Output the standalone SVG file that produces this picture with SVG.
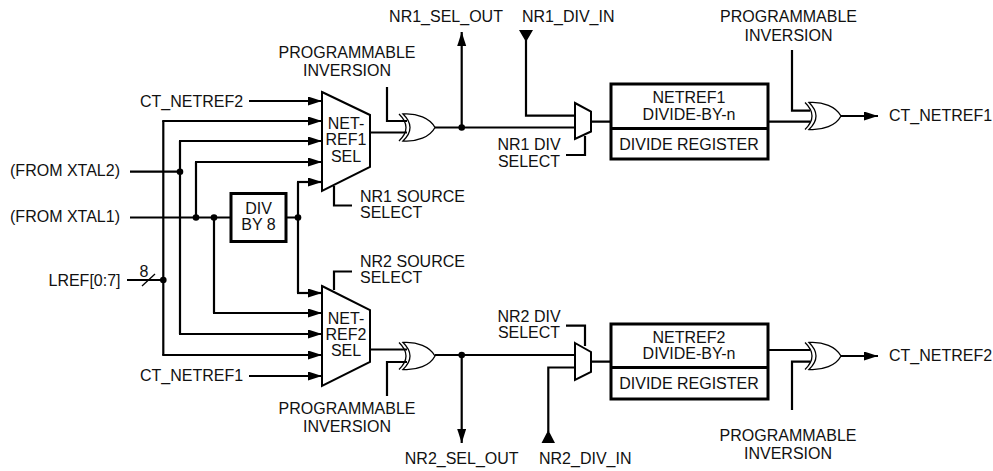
<svg xmlns="http://www.w3.org/2000/svg" width="993" height="471" viewBox="0 0 993 471">
<style>
text{font-family:"Liberation Sans",Arial,sans-serif;font-size:16px;fill:#111;text-anchor:middle}
.s{text-anchor:start}
.w{fill:none;stroke:#000;stroke-width:2.2}
.t{fill:none;stroke:#000;stroke-width:1.3}
.b{fill:#fff;stroke:#000;stroke-width:3}
.m{fill:#fff;stroke:#000;stroke-width:2}
.x{fill:#fff;stroke:#000;stroke-width:1.3}
</style>
<defs>
<marker id="a" markerUnits="userSpaceOnUse" markerWidth="15" markerHeight="10" refX="14" refY="4.500" orient="auto"><path d="M0 0L14 4.500L0 9Z" fill="#000"/></marker>
<g id="xor"><path class="x" d="M4 0C18 -1 31 4 36 13.500C31 23 18 28 4 27Q18 13.500 4 0Z"/><path class="t" d="M0 0Q14 13.500 0 27"/></g>
</defs>
<g id="connectors">
<path class="w" d="M130 171.700H180M130 217.500H231M180 141V334M196 217.500V162M214 217.500V313M163.300 121V355M286 217.500H298M298 182V293M127 280H163"/>
<path class="t" d="M142 286L155 274"/>
<path class="w" marker-end="url(#a)" d="M249 101H322"/>
<path class="w" marker-end="url(#a)" d="M162.200 121H322"/>
<path class="w" marker-end="url(#a)" d="M179 141H322"/>
<path class="w" marker-end="url(#a)" d="M195 162H322"/>
<path class="w" marker-end="url(#a)" d="M297 182H322"/>
<path class="w" marker-end="url(#a)" d="M297 293H322"/>
<path class="w" marker-end="url(#a)" d="M213 313H322"/>
<path class="w" marker-end="url(#a)" d="M179 334H322"/>
<path class="w" marker-end="url(#a)" d="M162.200 355H322"/>
<path class="w" marker-end="url(#a)" d="M249 376H322"/>
<path class="w" d="M334 186V205.500H352M334 290V271.500H352"/>
<path class="w" d="M370 132.500H407M387 87V121H407M370 349.500H407M387 396V362H407"/>
<path class="w" d="M435 127.500H575M435 355H575"/>
<path class="w" marker-end="url(#a)" d="M461.700 127.500V32"/>
<path class="w" marker-end="url(#a)" d="M461.700 355V443"/>
<path class="w" d="M526 40V115.700H575M548.300 432V367.500H575M591 121.700H611M591 361.700H611"/>
<path class="w" d="M585 136V155H566M585 346V325.700H566"/>
<path class="w" d="M768 121.700H810M792 50V110.700H810M768 350H810M792 410V361.700H810"/>
<path class="w" marker-end="url(#a)" d="M841 116H878"/>
<path class="w" marker-end="url(#a)" d="M841 356H878"/>
<path d="M519 30H533L526 42ZM541.500 443H555L548.300 430Z" fill="#000"/>
<g fill="#000"><circle cx="180" cy="171.700" r="3.300"/><circle cx="196" cy="217.500" r="3.300"/><circle cx="214" cy="217.500" r="3.300"/><circle cx="298" cy="217.500" r="3.300"/><circle cx="163.300" cy="280" r="3.300"/><circle cx="461.700" cy="127.500" r="3.300"/><circle cx="461.700" cy="355" r="3.300"/></g>
</g>
<g id="mux1"><path class="m" d="M322 92L370 115V167L322 191Z"/><text x="346" y="129">NET-</text><text x="346" y="145">REF1</text><text x="346" y="161.500">SEL</text></g>
<g id="mux2"><path class="m" d="M322 286L370 310V362L322 386Z"/><text x="346" y="324">NET-</text><text x="346" y="339.500">REF2</text><text x="346" y="356">SEL</text></g>
<g id="div8"><rect class="b" x="231" y="193.500" width="55" height="48"/><text x="258.500" y="214">DIV</text><text x="258.500" y="229.500">BY 8</text></g>
<g id="xor1"><use href="#xor" x="399" y="114"/></g>
<g id="xor2"><use href="#xor" x="399" y="342.500"/></g>
<g id="xor3"><use href="#xor" x="805" y="102.500"/></g>
<g id="xor4"><use href="#xor" x="805" y="342.500"/></g>
<g id="muxs1"><path class="m" d="M575 103L591 111.500V131.500L575 139Z"/></g>
<g id="muxs2"><path class="m" d="M575 343L591 352V372L575 380Z"/></g>
<g id="box1"><rect class="b" x="611" y="84" width="157" height="75"/><path class="b" d="M611 128.500H768"/><text x="689" y="103">NETREF1</text><text x="689" y="119.500">DIVIDE-BY-n</text><text x="689" y="150">DIVIDE REGISTER</text></g>
<g id="box2"><rect class="b" x="611" y="324" width="157" height="75"/><path class="b" d="M611 367.500H768"/><text x="689" y="343">NETREF2</text><text x="689" y="359">DIVIDE-BY-n</text><text x="689" y="389">DIVIDE REGISTER</text></g>
<g id="labels">
<text class="s" x="140" y="106.500">CT_NETREF2</text><text class="s" x="140" y="381">CT_NETREF1</text>
<text x="65" y="176">(FROM XTAL2)</text><text x="65" y="222">(FROM XTAL1)</text><text x="84.500" y="285.500">LREF[0:7]</text><text x="144" y="277">8</text>
<text x="347" y="58">PROGRAMMABLE</text><text x="347" y="76">INVERSION</text>
<text x="347" y="414">PROGRAMMABLE</text><text x="347" y="432">INVERSION</text>
<text x="446" y="22">NR1_SEL_OUT</text><text class="s" x="522" y="22">NR1_DIV_IN</text>
<text x="461.700" y="464">NR2_SEL_OUT</text><text class="s" x="539" y="464">NR2_DIV_IN</text>
<text class="s" x="360" y="202">NR1 SOURCE</text><text class="s" x="360" y="218">SELECT</text>
<text class="s" x="360" y="267">NR2 SOURCE</text><text class="s" x="360" y="283">SELECT</text>
<text x="529" y="150">NR1 DIV</text><text x="529" y="166.500">SELECT</text>
<text x="529" y="321.500">NR2 DIV</text><text x="529" y="337.500">SELECT</text>
<text x="788.500" y="22">PROGRAMMABLE</text><text x="788.500" y="40.500">INVERSION</text>
<text x="788" y="441">PROGRAMMABLE</text><text x="788" y="459">INVERSION</text>
<text class="s" x="889" y="120.500">CT_NETREF1</text><text class="s" x="889" y="360.500">CT_NETREF2</text>
</g>
</svg>
